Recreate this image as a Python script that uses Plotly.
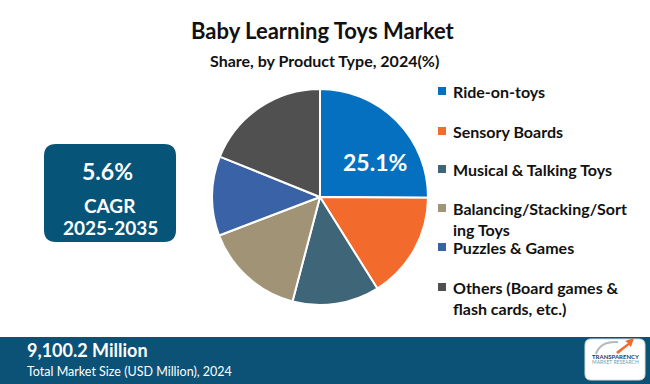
import plotly.graph_objects as go

W, H = 650, 384

labels = ["Ride-on-toys", "Sensory Boards", "Musical & Talking Toys",
          "Balancing/Stacking/Sorting Toys", "Puzzles & Games",
          "Others (Board games & flash cards, etc.)"]
legend_text = ["Ride-on-toys", "Sensory Boards", "Musical & Talking Toys",
               "Balancing/Stacking/Sort<br>ing Toys", "Puzzles & Games",
               "Others (Board games &<br>flash cards, etc.)"]
values = [25.1, 16.0, 13.0, 15.1, 11.9, 18.9]
colors = ["#0570BF", "#F26A2C", "#3F6678", "#A19376", "#3A62A7", "#505050"]

title = "Baby Learning Toys Market"
subtitle = "Share, by Product Type, 2024(%)"
cagr_value = "5.6%"
cagr_label = "CAGR"
cagr_period = "2025-2035"
market_size = "9,100.2 Million"
market_label = "Total Market Size (USD Million), 2024"

def px(x):
    return x / W

def py(y):
    return 1 - y / H

fig = go.Figure()
fig.add_trace(go.Pie(
    labels=labels, values=values,
    textinfo="none",
    sort=False, direction="clockwise", rotation=0,
    marker=dict(colors=colors, line=dict(color="white", width=2)),
    domain=dict(x=[px(212), px(428)], y=[py(305), py(89)]),
    showlegend=False, hoverinfo="label+percent",
))

shapes = []
annotations = []

def ann(text, x, y, size, color="#111111", xanchor="center", yanchor="middle", align="center"):
    annotations.append(dict(text=text, x=px(x), y=py(y), xref="paper", yref="paper",
                            showarrow=False, xanchor=xanchor, yanchor=yanchor, align=align,
                            font=dict(family="Lato", size=size, color=color)))

# Slice label for the largest segment
ann("<b>%.1f%%</b>" % values[0], 375, 162, 23, color="white")

# Titles
ann("<b>%s</b>" % title, 323, 31, 22)
ann("<b>%s</b>" % subtitle, 324, 61, 16)

# Legend (manual)
legend_y = [91, 131, 169, 208, 247, 287]
for lab, col, yy in zip(legend_text, colors, legend_y):
    shapes.append(dict(type="rect", xref="paper", yref="paper",
                       x0=px(438), x1=px(446), y0=py(yy + 4), y1=py(yy - 4),
                       fillcolor=col, line=dict(width=0)))
    ann("<b>%s</b>" % lab, 451, yy - 11, 16, xanchor="left", yanchor="top", align="left")

# Rounded rectangle helper
def rounded(x0, y0, x1, y1, r):
    rx, ry = r / W, r / H
    X0, X1, Y0, Y1 = px(x0), px(x1), py(y1), py(y0)
    return (f"M {X0+rx},{Y0} L {X1-rx},{Y0} Q {X1},{Y0} {X1},{Y0+ry} "
            f"L {X1},{Y1-ry} Q {X1},{Y1} {X1-rx},{Y1} L {X0+rx},{Y1} "
            f"Q {X0},{Y1} {X0},{Y1-ry} L {X0},{Y0+ry} Q {X0},{Y0} {X0+rx},{Y0} Z")

# CAGR box
shapes.append(dict(type="path", xref="paper", yref="paper", path=rounded(44, 144, 176, 242, 12),
                   fillcolor="#075479", line=dict(width=0)))
ann("<b>%s</b>" % cagr_value, 107, 171, 23, color="white")
ann("<b>%s</b>" % cagr_label, 110, 205, 19, color="white")
ann("<b>%s</b>" % cagr_period, 110, 227, 19, color="white")

# Bottom bar
shapes.append(dict(type="rect", xref="paper", yref="paper", x0=0, x1=1, y0=0, y1=py(337),
                   fillcolor="#0B5276", line=dict(width=0)))
ann("<b>%s</b>" % market_size, 25, 350, 18, color="white", xanchor="left")
ann(market_label, 25, 371, 12.5, color="white", xanchor="left")

# Logo
shapes.append(dict(type="path", xref="paper", yref="paper", path=rounded(585, 339, 645, 380, 6),
                   fillcolor="white", line=dict(color="#DDDDDD", width=1)))
shapes.append(dict(type="path", xref="paper", yref="paper",
                   path=f"M {px(596)},{py(354)} Q {px(600)},{py(341)} {px(618)},{py(342)}",
                   fillcolor="rgba(0,0,0,0)", line=dict(color="#B8B8B8", width=2)))
shapes.append(dict(type="path", xref="paper", yref="paper",
                   path=f"M {px(616)},{py(352)} L {px(628)},{py(343)} L {px(625)},{py(341)} L {px(634)},{py(338)} L {px(631)},{py(347)} L {px(629)},{py(345)} L {px(618)},{py(354)} Z",
                   fillcolor="#F26A2C", line=dict(width=0)))
ann("<b>TRANSPARENCY</b>", 615, 356, 6, color="#1B3C6B")
ann("MARKET RESEARCH", 615, 362, 5, color="#6FA0A8")

fig.update_layout(width=W, height=H, margin=dict(l=0, r=0, t=0, b=0),
                  paper_bgcolor="white", plot_bgcolor="white",
                  shapes=shapes, annotations=annotations, showlegend=False)

fig.write_html("out.html", config={"displayModeBar": False},
               post_script="document.body.style.margin='0';document.body.style.overflow='hidden';")
